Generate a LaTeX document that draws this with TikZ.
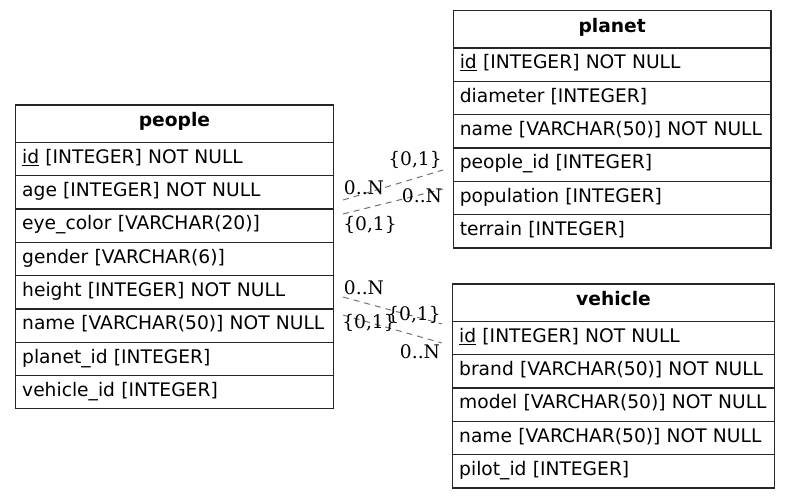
\documentclass[tikz,border=0pt]{standalone}
\usepackage{fontspec}
\setmainfont{DejaVu Sans}
\newfontfamily\lblfont{DejaVu Serif}
\newcommand{\pkul}[1]{\tikz[baseline=(u.base)]{\node[inner sep=0pt,outer sep=0pt] (u) {#1};\draw[black!60,line width=0.8pt] ([yshift=-2.5pt]u.base west) -- ([yshift=-2.5pt]u.base east);}}
\begin{document}
\begin{tikzpicture}[x=1pt,y=-1pt,
  tbl/.style={draw=black!85, line width=1.1pt, rectangle, anchor=north west,
              inner xsep=6.5pt, inner ysep=0pt, outer sep=0pt},
  hdr/.style={tbl, minimum height=37.3pt, align=center, text height=14pt,
              text depth=8.2pt, font=\fontsize{18.67}{22}\selectfont\bfseries},
  fld/.style={tbl, minimum height=33.33pt, align=left, text height=14pt,
              text depth=5.8pt, font=\fontsize{18.67}{22}\selectfont},
  rel/.style={draw=black!55, line width=1pt, dash pattern=on 6pt off 5pt},
  card/.style={font=\lblfont\fontsize{18.67}{22}\selectfont, inner sep=0pt}]
\useasboundingbox (0,0) rectangle (789,498);

% people
\node[hdr, text width=304.6pt] (people) at (15.7,105) {people};
\node[fld, text width=304.6pt] (people-id) at (people.south west) {\mbox{\underline{id} [INTEGER] NOT NULL}};
\node[fld, text width=304.6pt] (people-age) at (people-id.south west) {\mbox{age [INTEGER] NOT NULL}};
\node[fld, text width=304.6pt] (people-eye) at (people-age.south west) {\mbox{eye\_color [VARCHAR(20)]}};
\node[fld, text width=304.6pt] (people-gender) at (people-eye.south west) {\mbox{gender [VARCHAR(6)]}};
\node[fld, text width=304.6pt] (people-height) at (people-gender.south west) {\mbox{height [INTEGER] NOT NULL}};
\node[fld, text width=304.6pt] (people-name) at (people-height.south west) {\mbox{name [VARCHAR(50)] NOT NULL}};
\node[fld, text width=304.6pt] (people-planet) at (people-name.south west) {\mbox{planet\_id [INTEGER]}};
\node[fld, text width=304.6pt] (people-vehicle) at (people-planet.south west) {\mbox{vehicle\_id [INTEGER]}};

% planet
\node[hdr, text width=304.7pt] (planet) at (453.3,10.7) {planet};
\node[fld, text width=304.7pt] (planet-id) at (planet.south west) {\mbox{\underline{id} [INTEGER] NOT NULL}};
\node[fld, text width=304.7pt] (planet-diam) at (planet-id.south west) {\mbox{diameter [INTEGER]}};
\node[fld, text width=304.7pt] (planet-name) at (planet-diam.south west) {\mbox{name [VARCHAR(50)] NOT NULL}};
\node[fld, text width=304.7pt] (planet-people) at (planet-name.south west) {\mbox{people\_id [INTEGER]}};
\node[fld, text width=304.7pt] (planet-pop) at (planet-people.south west) {\mbox{population [INTEGER]}};
\node[fld, text width=304.7pt] (planet-terrain) at (planet-pop.south west) {\mbox{terrain [INTEGER]}};

% vehicle
\node[hdr, text width=308.6pt] (vehicle) at (452.7,284) {vehicle};
\node[fld, text width=308.6pt] (vehicle-id) at (vehicle.south west) {\mbox{\underline{id} [INTEGER] NOT NULL}};
\node[fld, text width=308.6pt] (vehicle-brand) at (vehicle-id.south west) {\mbox{brand [VARCHAR(50)] NOT NULL}};
\node[fld, text width=308.6pt] (vehicle-model) at (vehicle-brand.south west) {\mbox{model [VARCHAR(50)] NOT NULL}};
\node[fld, text width=308.6pt] (vehicle-name) at (vehicle-model.south west) {\mbox{name [VARCHAR(50)] NOT NULL}};
\node[fld, text width=308.6pt] (vehicle-pilot) at (vehicle-name.south west) {\mbox{pilot\_id [INTEGER]}};

% connector end points
\coordinate (r1a) at (343,200);
\coordinate (r1b) at (443,170);
\coordinate (r2a) at (343,214);
\coordinate (r2b) at (443,189);
\coordinate (r3a) at (343,297);
\coordinate (r3b) at (442,324);
\coordinate (r4a) at (343,315);
\coordinate (r4b) at (442,343);

\draw[rel] (r1a) -- (r1b);
\draw[rel] (r2a) -- (r2b);
\draw[rel] (r3a) -- (r3b);
\draw[rel] (r4a) -- (r4b);

% cardinalities
\node[card] (c1b) at (415,160) {\{0,1\}};
\node[card] (c1a) at (364,188) {0..N};
\node[card] (c2b) at (422,196) {0..N};
\node[card] (c2a) at (370,225) {\{0,1\}};
\node[card] (c3a) at (364,288) {0..N};
\node[card] (c4a) at (369,323) {\{0,1\}};
\node[card] (c3b) at (414,315) {\{0,1\}};
\node[card] (c4b) at (420,352) {0..N};
\end{tikzpicture}
\end{document}
